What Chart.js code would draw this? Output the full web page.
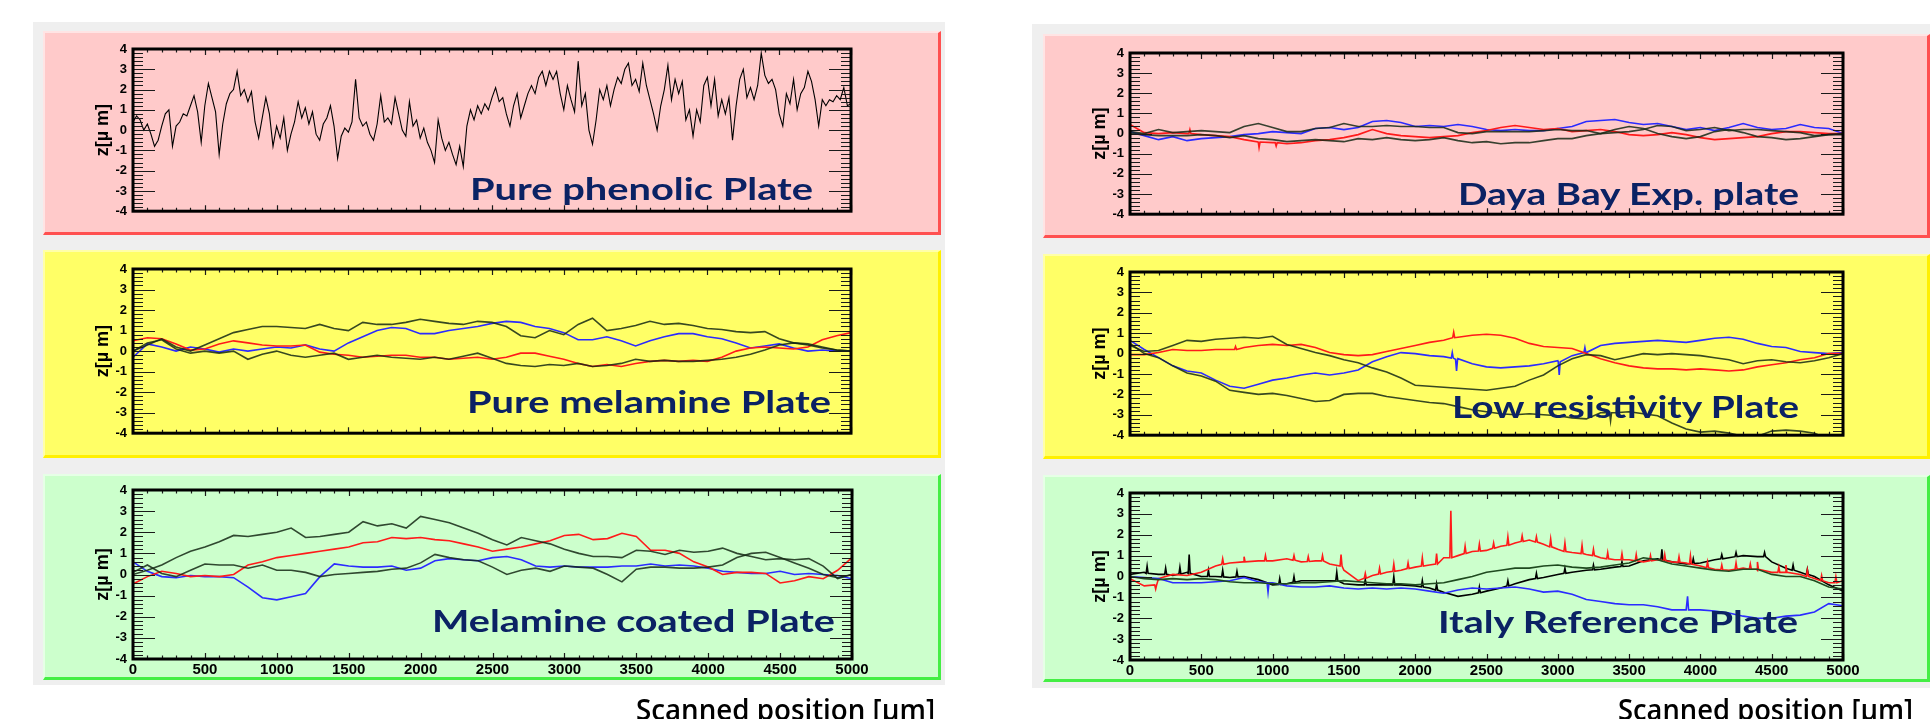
<!DOCTYPE html>
<html>
<head>
<meta charset="utf-8">
<script src="https://cdn.jsdelivr.net/npm/chart.js@4.4.0/dist/chart.umd.min.js"></script>
<style>
    body { margin: 0; width: 1930px; height: 719px; background: #fff; position: relative; overflow: hidden; }
    .bg { position: absolute; background: #efefef; }
    .box { position: absolute; box-sizing: border-box; }
    .pink { background: #ffcaca; border-top: 2px solid #ffe4e4; border-left: 2px solid #ffe4e4; border-right: 3px solid #ff5050; border-bottom: 3px solid #ff5050; }
    .yellow { background: #ffff66; border-top: 2px solid #ffffa8; border-left: 2px solid #ffffa8; border-right: 3px solid #fff000; border-bottom: 3px solid #fff000; }
    .green { background: #ccffcc; border-top: 2px solid #e6ffe6; border-left: 2px solid #e6ffe6; border-right: 3px solid #44ee44; border-bottom: 3px solid #44ee44; }
    canvas { position: absolute; }
    .tag { position: absolute; white-space: nowrap; font-family: Lato, "Open Sans", sans-serif; font-weight: 700; color: #0b2264; transform-origin: 0 0; }
    .axt { position: absolute; white-space: nowrap; font-family: "Open Sans", Lato, sans-serif; font-weight: 600; color: #000; transform-origin: 0 0; }
</style>
</head>
<body>
<div class="bg" style="left:33px;top:22px;width:912px;height:663px"></div>
<div class="bg" style="left:1032px;top:24px;width:898px;height:664px"></div>
<script>
// x step (µm) for the profile arrays
const stepFine = 25;
const stepCoarse = 100;
const xTicks = [0, 500, 1000, 1500, 2000, 2500, 3000, 3500, 4000, 4500, 5000];
const yTicks = [-4, -3, -2, -1, 0, 1, 2, 3, 4];

// Pure phenolic plate (one scan, 25 µm step)
const phenolicZ = [
    0.4, 0.7, 0.5, 0.0, 0.3, -0.2, -0.8, -0.5, 0.2, 0.8, 1.0,
    -0.8, 0.2, 0.4, 0.8, 0.7, 1.2, 1.7, 0.9, -0.6, 1.2,
    2.3, 1.6, 0.9, -1.2, 0.3, 1.3, 1.8, 2.0, 2.9, 1.7,
    2.0, 1.4, 1.9, 0.4, -0.4, 0.6, 1.6, 0.8, -0.8, 0.2,
    -0.4, 0.6, -1.0, -0.2, 0.4, 1.4, 0.6, 1.1, 0.3, 0.9,
    -0.2, -0.5, 0.3, 0.6, 1.2, 0.2, -1.4, -0.3, 0.1, -0.1,
    0.4, 2.5, 0.6, 0.2, 0.4, -0.2, -0.5, 0.3, 1.7, 0.4,
    0.6, 0.3, 1.6, 0.8, 0.0, -0.3, 1.4, 0.2, 0.5, -0.4,
    0.1, -0.6, -1.0, -1.6, 0.5, -0.4, -1.0, -0.6, -1.2, -1.7,
    -0.8, -1.8, 0.2, 1.0, 0.5, 1.2, 0.8, 1.3, 1.0, 1.6,
    2.1, 1.4, 1.6, 0.8, 0.2, 1.2, 1.8, 0.6, 1.2, 1.8,
    2.2, 1.8, 2.6, 2.9, 2.2, 2.9, 2.5, 2.9, 1.8, 1.0,
    2.2, 1.5, 0.9, 3.4, 1.2, 1.8, 0.0, -0.7, 0.5, 2.0,
    1.5, 2.2, 1.2, 2.0, 2.6, 2.3, 3.0, 3.3, 2.2, 2.5,
    1.9, 3.3, 2.2, 1.5, 0.8, 0.0, 1.2, 2.0, 3.2, 1.5,
    2.5, 1.8, 2.4, 0.5, 1.0, -0.3, 1.0, 0.4, 2.2, 2.6,
    1.2, 2.5, 0.7, 1.5, 0.8, 1.6, -0.5, 1.2, 2.5, 3.0,
    1.6, 2.1, 1.5, 2.2, 3.8, 2.7, 2.3, 2.5, 2.0, 0.8,
    0.2, 1.8, 1.3, 2.5, 1.0, 1.8, 2.1, 2.9, 2.4, 1.5,
    0.2, 1.5, 1.2, 1.5, 1.4, 1.7, 1.5, 2.1, 1.2, 1.3
];

// Pure melamine plate (100 µm step)
const melamineDarkA = [0.0, 0.3, 0.6, 0.2, 0.0, 0.3, 0.6, 0.9, 1.05, 1.2, 1.2, 1.15, 1.1, 1.3, 1.1, 1.0, 1.4, 1.3, 1.3, 1.4, 1.55, 1.45, 1.35, 1.3, 1.45, 1.4, 1.2, 0.75, 0.65, 1.0, 0.8, 1.3, 1.6, 1.0, 1.1, 1.25, 1.45, 1.3, 1.35, 1.25, 1.1, 1.05, 0.95, 0.9, 0.95, 0.6, 0.4, 0.3, 0.15, 0.05, 0.0];
const melamineDarkB = [0.0, 0.4, 0.55, 0.1, -0.1, 0.0, -0.1, 0.0, -0.4, -0.15, 0.0, -0.2, -0.3, -0.2, -0.1, -0.4, -0.3, -0.2, -0.3, -0.35, -0.4, -0.3, -0.4, -0.25, -0.1, -0.35, -0.6, -0.7, -0.75, -0.65, -0.7, -0.6, -0.75, -0.7, -0.6, -0.4, -0.5, -0.45, -0.5, -0.5, -0.45, -0.4, -0.3, -0.15, 0.05, 0.3, 0.4, 0.35, 0.2, 0.05, 0.0];
const melamineRed = [0.5, 0.65, 0.6, 0.35, 0.05, 0.1, 0.35, 0.5, 0.4, 0.3, 0.25, 0.25, 0.3, -0.05, -0.15, -0.2, -0.3, -0.25, -0.2, -0.2, -0.3, -0.3, -0.4, -0.35, -0.3, -0.4, -0.3, -0.1, -0.1, -0.25, -0.4, -0.6, -0.75, -0.65, -0.75, -0.6, -0.5, -0.45, -0.5, -0.45, -0.5, -0.3, 0.0, 0.15, 0.2, 0.15, 0.1, 0.2, 0.55, 0.75, 0.9];
const melamineBlue = [-0.3, 0.35, 0.2, 0.0, 0.2, 0.1, -0.05, 0.1, 0.0, 0.1, 0.2, 0.15, 0.3, 0.1, 0.0, 0.4, 0.7, 1.0, 1.15, 1.1, 0.85, 0.85, 1.0, 1.1, 1.2, 1.35, 1.45, 1.4, 1.2, 1.1, 0.9, 0.55, 0.55, 0.7, 0.5, 0.25, 0.5, 0.7, 0.85, 0.85, 0.7, 0.6, 0.4, 0.15, 0.25, 0.35, 0.15, 0.0, 0.05, 0.0, 0.0];

// Melamine coated plate
const coatedDarkA = [0.0, 0.2, 0.45, 0.8, 1.1, 1.3, 1.55, 1.85, 1.8, 1.9, 2.0, 2.2, 1.75, 1.8, 1.9, 2.0, 2.5, 2.3, 2.4, 2.2, 2.75, 2.6, 2.45, 2.2, 1.95, 1.65, 1.4, 1.75, 1.6, 1.45, 1.2, 1.0, 0.85, 0.85, 0.8, 1.15, 1.1, 0.95, 1.15, 1.05, 1.1, 1.25, 1.0, 0.85, 0.7, 0.75, 0.7, 0.75, 0.4, -0.2, 0.0];
const coatedDarkB = [0.1, 0.45, 0.05, -0.1, 0.2, 0.5, 0.45, 0.45, 0.3, 0.45, 0.2, 0.2, 0.1, -0.1, 0.0, 0.05, 0.1, 0.15, 0.25, 0.3, 0.55, 0.95, 0.8, 0.7, 0.65, 0.35, 0.0, 0.2, 0.3, 0.15, 0.4, 0.35, 0.3, 0.0, -0.35, 0.25, 0.35, 0.35, 0.3, 0.3, 0.35, 0.45, 0.8, 1.0, 1.05, 0.8, 0.55, 0.3, 0.0, -0.15, 0.0];
const coatedRed = [-0.45, -0.1, 0.15, 0.05, -0.1, -0.05, -0.1, 0.0, 0.45, 0.6, 0.8, 0.9, 1.0, 1.1, 1.2, 1.3, 1.5, 1.55, 1.75, 1.7, 1.75, 1.65, 1.6, 1.45, 1.3, 1.1, 1.2, 1.3, 1.45, 1.6, 1.85, 1.9, 1.65, 1.7, 1.95, 1.8, 1.15, 1.15, 1.0, 0.6, 0.35, 0.0, 0.1, 0.1, 0.05, -0.4, -0.3, -0.1, -0.2, 0.2, 0.8];
const coatedBlue = [0.6, 0.15, -0.1, -0.15, -0.05, -0.1, -0.1, -0.15, -0.6, -1.1, -1.2, -1.05, -0.9, -0.1, 0.5, 0.4, 0.35, 0.35, 0.4, 0.2, 0.3, 0.65, 0.75, 0.7, 0.65, 0.8, 0.85, 0.7, 0.4, 0.35, 0.4, 0.35, 0.35, 0.35, 0.4, 0.4, 0.5, 0.4, 0.45, 0.4, 0.3, 0.15, 0.1, 0.05, 0.05, 0.15, 0.0, 0.05, 0.0, -0.05, -0.2];

// Daya Bay Exp. plate
const dayaBlue = [0.1, -0.1, -0.3, -0.15, -0.35, -0.25, -0.2, -0.15, -0.05, 0.0, 0.1, 0.05, 0.0, 0.25, 0.3, 0.2, 0.3, 0.6, 0.65, 0.55, 0.35, 0.4, 0.35, 0.45, 0.35, 0.2, 0.15, 0.2, 0.15, 0.15, 0.25, 0.35, 0.6, 0.65, 0.7, 0.55, 0.45, 0.5, 0.35, 0.2, 0.3, 0.15, 0.3, 0.5, 0.3, 0.2, 0.25, 0.45, 0.3, 0.25, 0.0];
const dayaRed = [0.45, 0.05, 0.0, 0.05, 0.0, -0.05, -0.1, -0.15, -0.3, -0.45, -0.45, -0.5, -0.45, -0.35, -0.3, -0.2, -0.05, 0.2, 0.0, -0.1, -0.15, -0.2, -0.15, -0.1, 0.05, 0.15, 0.3, 0.4, 0.3, 0.2, 0.25, 0.1, 0.15, 0.2, 0.1, -0.05, -0.1, -0.05, 0.05, -0.05, -0.2, -0.3, -0.25, -0.2, -0.15, 0.0, 0.1, 0.1, 0.05, 0.0, 0.0];
const dayaRedSpikes = [[905, -0.42, -0.7], [1025, -0.45, -0.62], [420, 0.0, 0.2]];
const dayaDarkA = [0.1, 0.0, 0.2, 0.05, 0.1, 0.15, 0.1, 0.05, 0.35, 0.5, 0.3, 0.1, 0.1, 0.25, 0.3, 0.5, 0.35, 0.35, 0.4, 0.35, 0.35, 0.3, 0.3, 0.05, 0.0, 0.1, 0.1, 0.1, 0.1, 0.15, 0.2, 0.15, 0.15, 0.0, 0.05, 0.1, 0.2, 0.4, 0.35, 0.15, 0.2, 0.3, 0.15, 0.2, 0.2, 0.15, 0.1, 0.05, -0.1, -0.05, -0.05];
const dayaDarkB = [0.0, -0.05, -0.1, -0.1, -0.1, -0.05, -0.1, -0.2, -0.1, -0.25, -0.3, -0.4, -0.35, -0.3, -0.35, -0.4, -0.25, -0.3, -0.2, -0.3, -0.35, -0.3, -0.2, -0.35, -0.45, -0.4, -0.5, -0.45, -0.45, -0.35, -0.25, -0.25, -0.1, 0.0, 0.2, 0.35, 0.25, 0.0, -0.15, -0.25, -0.15, 0.1, 0.2, 0.05, -0.15, -0.2, -0.3, -0.25, -0.15, -0.05, 0.0];

// Low resistivity plate
const lowresRed = [-0.05, -0.05, 0.05, 0.2, 0.15, 0.15, 0.2, 0.2, 0.3, 0.4, 0.45, 0.4, 0.45, 0.3, 0.05, -0.05, -0.1, -0.05, 0.1, 0.25, 0.4, 0.55, 0.65, 0.8, 0.9, 0.95, 0.9, 0.75, 0.5, 0.35, 0.3, 0.25, 0.0, -0.25, -0.45, -0.6, -0.7, -0.75, -0.75, -0.8, -0.75, -0.8, -0.85, -0.8, -0.65, -0.55, -0.45, -0.3, -0.2, 0.0, 0.0];
const lowresRedSpikes = [[2270, 0.78, 1.05], [740, 0.2, 0.35]];
const lowresBlue = [0.65, 0.2, -0.2, -0.6, -0.85, -0.95, -1.3, -1.6, -1.7, -1.5, -1.3, -1.2, -1.05, -0.95, -1.05, -0.95, -0.8, -0.4, -0.15, 0.05, 0.0, -0.1, -0.15, -0.25, -0.5, -0.65, -0.7, -0.65, -0.6, -0.5, -0.35, -0.1, 0.05, 0.4, 0.5, 0.55, 0.6, 0.65, 0.6, 0.55, 0.65, 0.75, 0.8, 0.7, 0.5, 0.35, 0.3, 0.1, 0.05, 0.0, 0.05];
const lowresBlueSpikes = [[2290, -0.28, -0.85], [2260, -0.22, 0.05], [3010, -0.4, -1.05], [3190, 0.05, 0.3]];
const lowresDarkA = [0.4, 0.1, 0.15, 0.4, 0.65, 0.6, 0.7, 0.75, 0.8, 0.75, 0.85, 0.45, 0.25, 0.05, -0.1, -0.3, -0.45, -0.7, -0.9, -1.2, -1.55, -1.6, -1.65, -1.7, -1.75, -1.8, -1.7, -1.6, -1.3, -1.05, -0.6, -0.25, -0.05, -0.1, -0.3, -0.15, 0.0, -0.05, 0.0, -0.05, -0.1, -0.2, -0.3, -0.5, -0.35, -0.3, -0.4, -0.45, -0.35, -0.2, 0.0];
const lowresDarkB = [0.5, 0.0, -0.2, -0.6, -0.95, -1.1, -1.35, -1.8, -1.9, -2.0, -1.95, -2.05, -2.2, -2.35, -2.3, -2.0, -1.95, -1.95, -2.1, -2.2, -2.3, -2.4, -2.45, -2.6, -2.75, -2.85, -2.95, -3.0, -2.95, -3.0, -3.05, -3.15, -3.2, -2.9, -2.9, -2.85, -2.95, -3.05, -3.4, -3.7, -3.85, -3.8, -3.9, -4.05, -4.05, -3.8, -3.75, -3.8, -3.9, -4.2, -4.3];
const lowresDarkBSpikes = [[3370, -2.9, -3.3]];

// Italy reference plate
const italyRed = [-0.1, -0.45, -0.1, 0.1, 0.05, 0.2, 0.5, 0.65, 0.7, 0.75, 0.75, 0.85, 0.7, 0.75, 0.6, 0.3, -0.2, 0.05, 0.2, 0.3, 0.45, 0.55, 0.9, 1.0, 1.2, 1.25, 1.45, 1.6, 1.75, 1.55, 1.3, 1.15, 1.05, 0.9, 0.8, 0.8, 0.7, 0.8, 0.7, 0.65, 0.5, 0.35, 0.3, 0.4, 0.3, 0.2, 0.2, 0.1, -0.1, -0.3, -0.2];
const italyRedSpikes = [
    [180, -0.4, -0.6], [650, 0.58, 0.85], [800, 0.7, 0.95], [950, 0.75, 1.0], [1150, 0.78, 1.0],
    [1250, 0.72, 0.95], [1350, 0.75, 1.0], [1480, 0.5, 1.05], [1650, -0.08, 0.15], [1750, 0.12, 0.4],
    [1850, 0.25, 0.6], [1950, 0.38, 0.65], [2050, 0.5, 0.9], [2150, 0.6, 1.1], [2250, 0.9, 3.15],
    [2350, 1.1, 1.45], [2450, 1.22, 1.55], [2550, 1.35, 1.6], [2650, 1.5, 1.9], [2750, 1.68, 1.95],
    [2850, 1.65, 1.9], [2950, 1.42, 1.8], [3050, 1.2, 1.6], [3170, 1.1, 1.5], [3250, 1.0, 1.3],
    [3350, 0.85, 1.15], [3450, 0.8, 1.1], [3550, 0.75, 1.05], [3650, 0.75, 1.0], [3750, 0.75, 1.05],
    [3850, 0.68, 0.95], [3930, 0.6, 1.0], [4050, 0.42, 0.7], [4150, 0.32, 0.55], [4250, 0.35, 0.65],
    [4350, 0.35, 0.6], [4400, 0.35, 0.7], [4550, 0.2, 0.45], [4600, 0.2, 0.55], [4750, 0.0, 0.3],
    [4850, -0.2, 0.05], [4950, -0.3, 0.0]
];
const italyBlack = [0.1, 0.2, 0.1, 0.05, 0.2, 0.0, 0.0, -0.05, 0.0, -0.15, -0.4, -0.35, -0.2, -0.2, -0.2, -0.35, -0.4, -0.4, -0.4, -0.4, -0.45, -0.55, -0.75, -0.95, -0.85, -0.7, -0.55, -0.35, -0.15, -0.05, 0.1, 0.2, 0.3, 0.35, 0.45, 0.5, 0.75, 0.85, 0.7, 0.6, 0.65, 0.8, 0.9, 1.0, 0.95, 0.7, 0.4, 0.2, 0.0, -0.4, -0.7];
const italyBlackSpikes = [
    [120, 0.15, 0.5], [250, 0.1, 0.4], [350, 0.12, 0.45], [415, 0.15, 1.05], [550, 0.0, 0.3],
    [650, -0.02, 0.3], [750, -0.02, 0.25], [1050, -0.38, -0.1], [1150, -0.28, 0.0], [1450, -0.2, 0.2],
    [1650, -0.4, -0.15], [1850, -0.4, 0.0], [2050, -0.5, -0.2], [2150, -0.65, -0.35], [2450, -0.78, -0.5],
    [2650, -0.45, -0.2], [2850, -0.1, 0.15], [3050, 0.15, 0.4], [3250, 0.32, 0.55], [3450, 0.48, 0.7],
    [3730, 0.8, 1.3], [3950, 0.62, 0.85], [4150, 0.85, 1.05], [4250, 0.95, 1.15], [4450, 0.95, 1.15],
    [4650, 0.3, 0.55], [4750, 0.1, 0.35]
];
const italyGreen = [0.0, -0.1, -0.15, -0.1, -0.15, -0.1, -0.15, -0.25, -0.3, -0.3, -0.35, -0.35, -0.3, -0.3, -0.25, -0.2, -0.25, -0.3, -0.35, -0.35, -0.4, -0.35, -0.3, -0.15, 0.0, 0.2, 0.3, 0.4, 0.4, 0.5, 0.55, 0.45, 0.4, 0.45, 0.55, 0.65, 0.9, 0.8, 0.6, 0.5, 0.4, 0.3, 0.25, 0.35, 0.35, 0.1, 0.0, 0.0, -0.2, -0.5, -0.6];
const italyBlue = [0.0, -0.05, -0.1, -0.3, -0.3, -0.3, -0.25, -0.2, -0.05, -0.25, -0.3, -0.45, -0.5, -0.5, -0.45, -0.55, -0.6, -0.55, -0.6, -0.55, -0.6, -0.7, -0.8, -0.65, -0.55, -0.6, -0.55, -0.5, -0.6, -0.75, -0.7, -0.85, -1.1, -1.2, -1.3, -1.35, -1.35, -1.45, -1.6, -1.6, -1.6, -1.65, -1.75, -1.9, -2.0, -2.0, -1.9, -1.85, -1.7, -1.3, -1.4];
const italyBlueSpikes = [[968, -0.3, -0.75], [3910, -1.6, -0.95]];

const RED = '#ff1a1a', BLUE = '#2b2bff', DARK = 'rgba(20,40,20,0.85)';

function buildPoints(values, step, spikes) {
    const pts = values.map((v, i) => ({ x: i * step, y: v }));
    (spikes || []).forEach(([sx, base, peak]) => {
        pts.push({ x: sx - 7, y: base }, { x: sx, y: peak }, { x: sx + 7, y: base });
    });
    return pts.sort((a, b) => a.x - b.x);
}

const panels = [
    { frame: { x: 133, y: 49, w: 718, h: 166 }, box: [43, 31, 898, 204, 'pink'], showX: false,
      tag: ['Pure phenolic Plate', 470, 813, 200],
      series: [[phenolicZ, stepFine, null, '#000', 1.1]] },
    { frame: { x: 133, y: 269, w: 718, h: 168 }, box: [43, 250, 898, 208, 'yellow'], showX: false,
      tag: ['Pure melamine Plate', 467, 831, 413],
      series: [[melamineDarkA, stepCoarse, null, DARK, 1.6], [melamineDarkB, stepCoarse, null, DARK, 1.6],
               [melamineRed, stepCoarse, null, RED, 1.6], [melamineBlue, stepCoarse, null, BLUE, 1.6]] },
    { frame: { x: 133, y: 490, w: 719, h: 169 }, box: [43, 474, 898, 206, 'green'], showX: true,
      tag: ['Melamine coated Plate', 432, 835, 632],
      series: [[coatedDarkA, stepCoarse, null, DARK, 1.6], [coatedDarkB, stepCoarse, null, DARK, 1.6],
               [coatedRed, stepCoarse, null, RED, 1.6], [coatedBlue, stepCoarse, null, BLUE, 1.6]] },
    { frame: { x: 1130, y: 53, w: 713, h: 165 }, box: [1043, 34, 887, 204, 'pink'], showX: false,
      tag: ['Daya Bay Exp. plate', 1458, 1799, 205],
      series: [[dayaDarkA, stepCoarse, null, DARK, 1.6], [dayaDarkB, stepCoarse, null, DARK, 1.6],
               [dayaRed, stepCoarse, dayaRedSpikes, RED, 1.6], [dayaBlue, stepCoarse, null, BLUE, 1.6]] },
    { frame: { x: 1130, y: 272, w: 713, h: 167 }, box: [1043, 254, 887, 205, 'yellow'], showX: false,
      tag: ['Low resistivity Plate', 1452, 1799, 418],
      series: [[lowresDarkA, stepCoarse, null, DARK, 1.6], [lowresDarkB, stepCoarse, lowresDarkBSpikes, DARK, 1.6],
               [lowresRed, stepCoarse, lowresRedSpikes, RED, 1.6], [lowresBlue, stepCoarse, lowresBlueSpikes, BLUE, 1.6]] },
    { frame: { x: 1130, y: 493, w: 713, h: 167 }, box: [1043, 475, 887, 207, 'green'], showX: true,
      tag: ['Italy Reference Plate', 1438, 1798, 633],
      series: [[italyGreen, stepCoarse, null, '#1f4a1f', 1.6], [italyBlue, stepCoarse, italyBlueSpikes, BLUE, 1.6],
               [italyRed, stepCoarse, italyRedSpikes, RED, 1.6], [italyBlack, stepCoarse, italyBlackSpikes, '#000', 1.6]] }
];

// ROOT-style frame: thick box with ticks pointing inwards on all four sides
const framePlugin = {
    id: 'rootFrame',
    afterDatasetsDraw(chart) {
        const { ctx, chartArea: a, scales: { x, y } } = chart;
        ctx.save();
        ctx.strokeStyle = '#1a1a1a';
        ctx.lineWidth = 1.2;
        ctx.beginPath();
        for (let k = -20; k <= 20; k++) {
            const py = Math.round(y.getPixelForValue(k / 5)) + 0.5;
            const len = k % 5 === 0 ? 22 : 10;
            ctx.moveTo(a.left, py); ctx.lineTo(a.left + len, py);
            ctx.moveTo(a.right, py); ctx.lineTo(a.right - len, py);
        }
        for (let v = 0; v <= 5000; v += 100) {
            const px = Math.round(x.getPixelForValue(v)) + 0.5;
            const len = v % 500 === 0 ? 6 : 3.5;
            ctx.moveTo(px, a.bottom); ctx.lineTo(px, a.bottom - len);
            ctx.moveTo(px, a.top); ctx.lineTo(px, a.top + len);
        }
        ctx.stroke();
        ctx.lineWidth = 3;
        ctx.strokeStyle = '#000';
        ctx.strokeRect(a.left, a.top, a.right - a.left, a.bottom - a.top);
        ctx.restore();
    }
};

function placeText(cls, text, left, right, baseline, size) {
    const el = document.createElement('div');
    el.className = cls;
    el.textContent = text;
    el.style.fontSize = size + 'px';
    el.style.lineHeight = size + 'px';
    el.style.left = left + 'px';
    el.style.top = (baseline - 0.887 * size) + 'px';
    document.body.appendChild(el);
    const w = el.getBoundingClientRect().width;
    el.style.transform = `scaleX(${(right - left) / w})`;
}

panels.forEach(p => {
    const [bx, by, bw, bh, tone] = p.box;
    const box = document.createElement('div');
    box.className = 'box ' + tone;
    Object.assign(box.style, { left: bx + 'px', top: by + 'px', width: bw + 'px', height: bh + 'px' });
    document.body.appendChild(box);

    const padL = 90, padR = 22, padT = 30, padB = 10;
    const xAxisH = p.showX ? 26 : 0;
    const canvas = document.createElement('canvas');
    canvas.width = p.frame.w + padL + padR;
    canvas.height = p.frame.h + padT + padB + xAxisH;
    canvas.style.left = (p.frame.x - padL) + 'px';
    canvas.style.top = (p.frame.y - padT) + 'px';
    document.body.appendChild(canvas);

    new Chart(canvas, {
        type: 'line',
        data: {
            datasets: p.series.map(([vals, step, spikes, color, width]) => ({
                data: buildPoints(vals, step, spikes),
                borderColor: color,
                borderWidth: width,
                pointRadius: 0,
                tension: 0,
                fill: false
            }))
        },
        options: {
            responsive: false,
            animation: false,
            events: [],
            layout: { padding: { left: 0, right: padR, top: padT, bottom: padB } },
            plugins: { legend: { display: false }, tooltip: { enabled: false } },
            scales: {
                x: {
                    type: 'linear', min: 0, max: 5000, display: p.showX,
                    grid: { display: false, drawTicks: false }, border: { display: false },
                    afterBuildTicks: s => { s.ticks = xTicks.map(v => ({ value: v })); },
                    ticks: { autoSkip: false, maxRotation: 0, padding: 2, color: '#000',
                             callback: v => String(v),
                             font: { family: 'Liberation Sans', size: 15, weight: 'bold' } },
                    afterFit: s => { s.height = xAxisH; }
                },
                y: {
                    type: 'linear', min: -4, max: 4,
                    grid: { display: false, drawTicks: false }, border: { display: false },
                    afterBuildTicks: s => { s.ticks = yTicks.map(v => ({ value: v })); },
                    ticks: { autoSkip: false, padding: 6, color: '#000',
                             callback: v => String(v),
                             font: { family: 'Liberation Sans', size: 13, weight: 'bold' } },
                    title: { display: true, text: 'z[µ m]', color: '#000', padding: { top: 49, bottom: 0 },
                             font: { family: 'Liberation Sans', size: 18, weight: 'bold' } },
                    afterFit: s => { s.width = padL; }
                }
            }
        },
        plugins: [framePlugin]
    });

    const [txt, tl, tr, tb] = p.tag;
    placeText('tag', txt, tl, tr, tb, 30);
});

placeText('axt', 'Scanned position [µm]', 636, 935, 720, 28);
placeText('axt', 'Scanned position [µm]', 1618, 1913, 720, 28);
</script>
</body>
</html>
